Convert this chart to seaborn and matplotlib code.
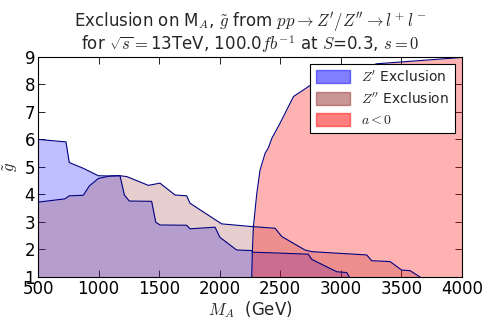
import matplotlib
matplotlib.use("Agg")
import matplotlib.pyplot as plt
import matplotlib.patches as mpatches
import seaborn as sns

# Z' exclusion boundary (M_A in GeV, g~)
zp_mass = [500, 731, 758, 874, 998, 1094, 1177, 1213, 1254, 1438, 1472, 1507,
           1727, 1755, 1961, 2002, 2140, 2264, 2272, 2415, 2663, 2731, 2759,
           2966, 3048, 3070]
zp_g = [6.0, 5.91, 5.16, 4.95, 4.68, 4.67, 4.68, 3.98, 3.76, 3.75, 2.99, 2.89,
        2.88, 2.75, 2.81, 2.44, 1.98, 1.96, 1.90, 1.88, 1.84, 1.83, 1.64,
        1.19, 1.16, 1.0]

# Z'' exclusion boundary
zpp_mass = [500, 723, 758, 874, 924, 998, 1094, 1177, 1232, 1411, 1507, 1631,
            1727, 1755, 2002, 2016, 2272, 2457, 2512, 2704, 2759, 3213, 3255,
            3406, 3502, 3571, 3653]
zpp_g = [3.72, 3.84, 3.95, 3.97, 4.31, 4.58, 4.67, 4.68, 4.65, 4.33, 4.41, 3.98,
         3.95, 3.68, 2.97, 2.93, 2.83, 2.77, 2.47, 1.98, 1.92, 1.80, 1.59,
         1.56, 1.25, 1.23, 1.0]

# a < 0 boundary
neg_mass = [2264, 2270, 2278, 2306, 2333, 2375, 2402, 2430, 2498, 2609, 2773,
            3297, 4000]
neg_g = [1.0, 2.0, 2.83, 4.04, 4.89, 5.50, 5.70, 6.04, 6.59, 7.56, 8.04,
         8.75, 8.98]

xticks = [500, 1000, 1500, 2000, 2500, 3000, 3500, 4000]
yticks = [1, 2, 3, 4, 5, 6, 7, 8, 9]

sns.set_style("ticks")
plt.rcParams["font.family"] = ["DejaVu Sans"]
plt.rcParams["mathtext.fontset"] = "cm"
plt.rcParams["xtick.direction"] = "in"
plt.rcParams["ytick.direction"] = "in"

fig = plt.figure(figsize=(4.91, 3.27), dpi=100)
ax = fig.add_axes([0.0774, 0.153, 0.8636, 0.673])

zp_col = "blue"
zpp_col = "#962d2d"
neg_col = "red"

ax.fill_between(zp_mass, 0, zp_g, color=zp_col, alpha=0.25, lw=0)
ax.fill_between(zpp_mass, 0, zpp_g, color=zpp_col, alpha=0.23, lw=0)
ax.fill_between(neg_mass, 0, neg_g, color=neg_col, alpha=0.3, lw=0)

for xs, ys in [(zp_mass, zp_g), (zpp_mass, zpp_g), (neg_mass, neg_g)]:
    sns.lineplot(x=xs, y=ys, sort=False, estimator=None, ax=ax,
                 color="navy", lw=0.8)

ax.set_xlim(500, 4000)
ax.set_ylim(1, 9)
ax.set_xticks(xticks)
ax.set_yticks(yticks)
ax.tick_params(labelsize=12, top=True, right=True, length=5, width=0.6,
               colors="black", pad=2)
for sp in ax.spines.values():
    sp.set_color("black")
    sp.set_linewidth(0.8)

ax.set_xlabel(r"$M_A$  (GeV)", fontsize=12, labelpad=1)
ax.set_ylabel(r"$\tilde{g}$", fontsize=12, labelpad=3)
ax.set_title("Exclusion on M$_A$, $\\tilde{g}$ from $pp\\rightarrow Z^\\prime/Z^{\\prime\\prime}\\rightarrow l^+l^-$\n"
             "for $\\sqrt{s}=$13TeV, 100.0$fb^{-1}$ at $S$=0.3, $s=0$",
             fontsize=12, pad=5, linespacing=0.95)

handles = [mpatches.Patch(color=zp_col, alpha=0.5, label=r"$Z^\prime$ Exclusion"),
           mpatches.Patch(color=zpp_col, alpha=0.5, label=r"$Z^{\prime\prime}$ Exclusion"),
           mpatches.Patch(color=neg_col, alpha=0.5, label=r"$a<0$")]
leg = ax.legend(handles=handles, loc="upper right", fontsize=10, fancybox=False,
                framealpha=1, edgecolor="black", borderaxespad=0.5,
                handlelength=2.5, handleheight=1.0)
leg.get_frame().set_linewidth(0.8)

fig.savefig("out.png", dpi=100)
